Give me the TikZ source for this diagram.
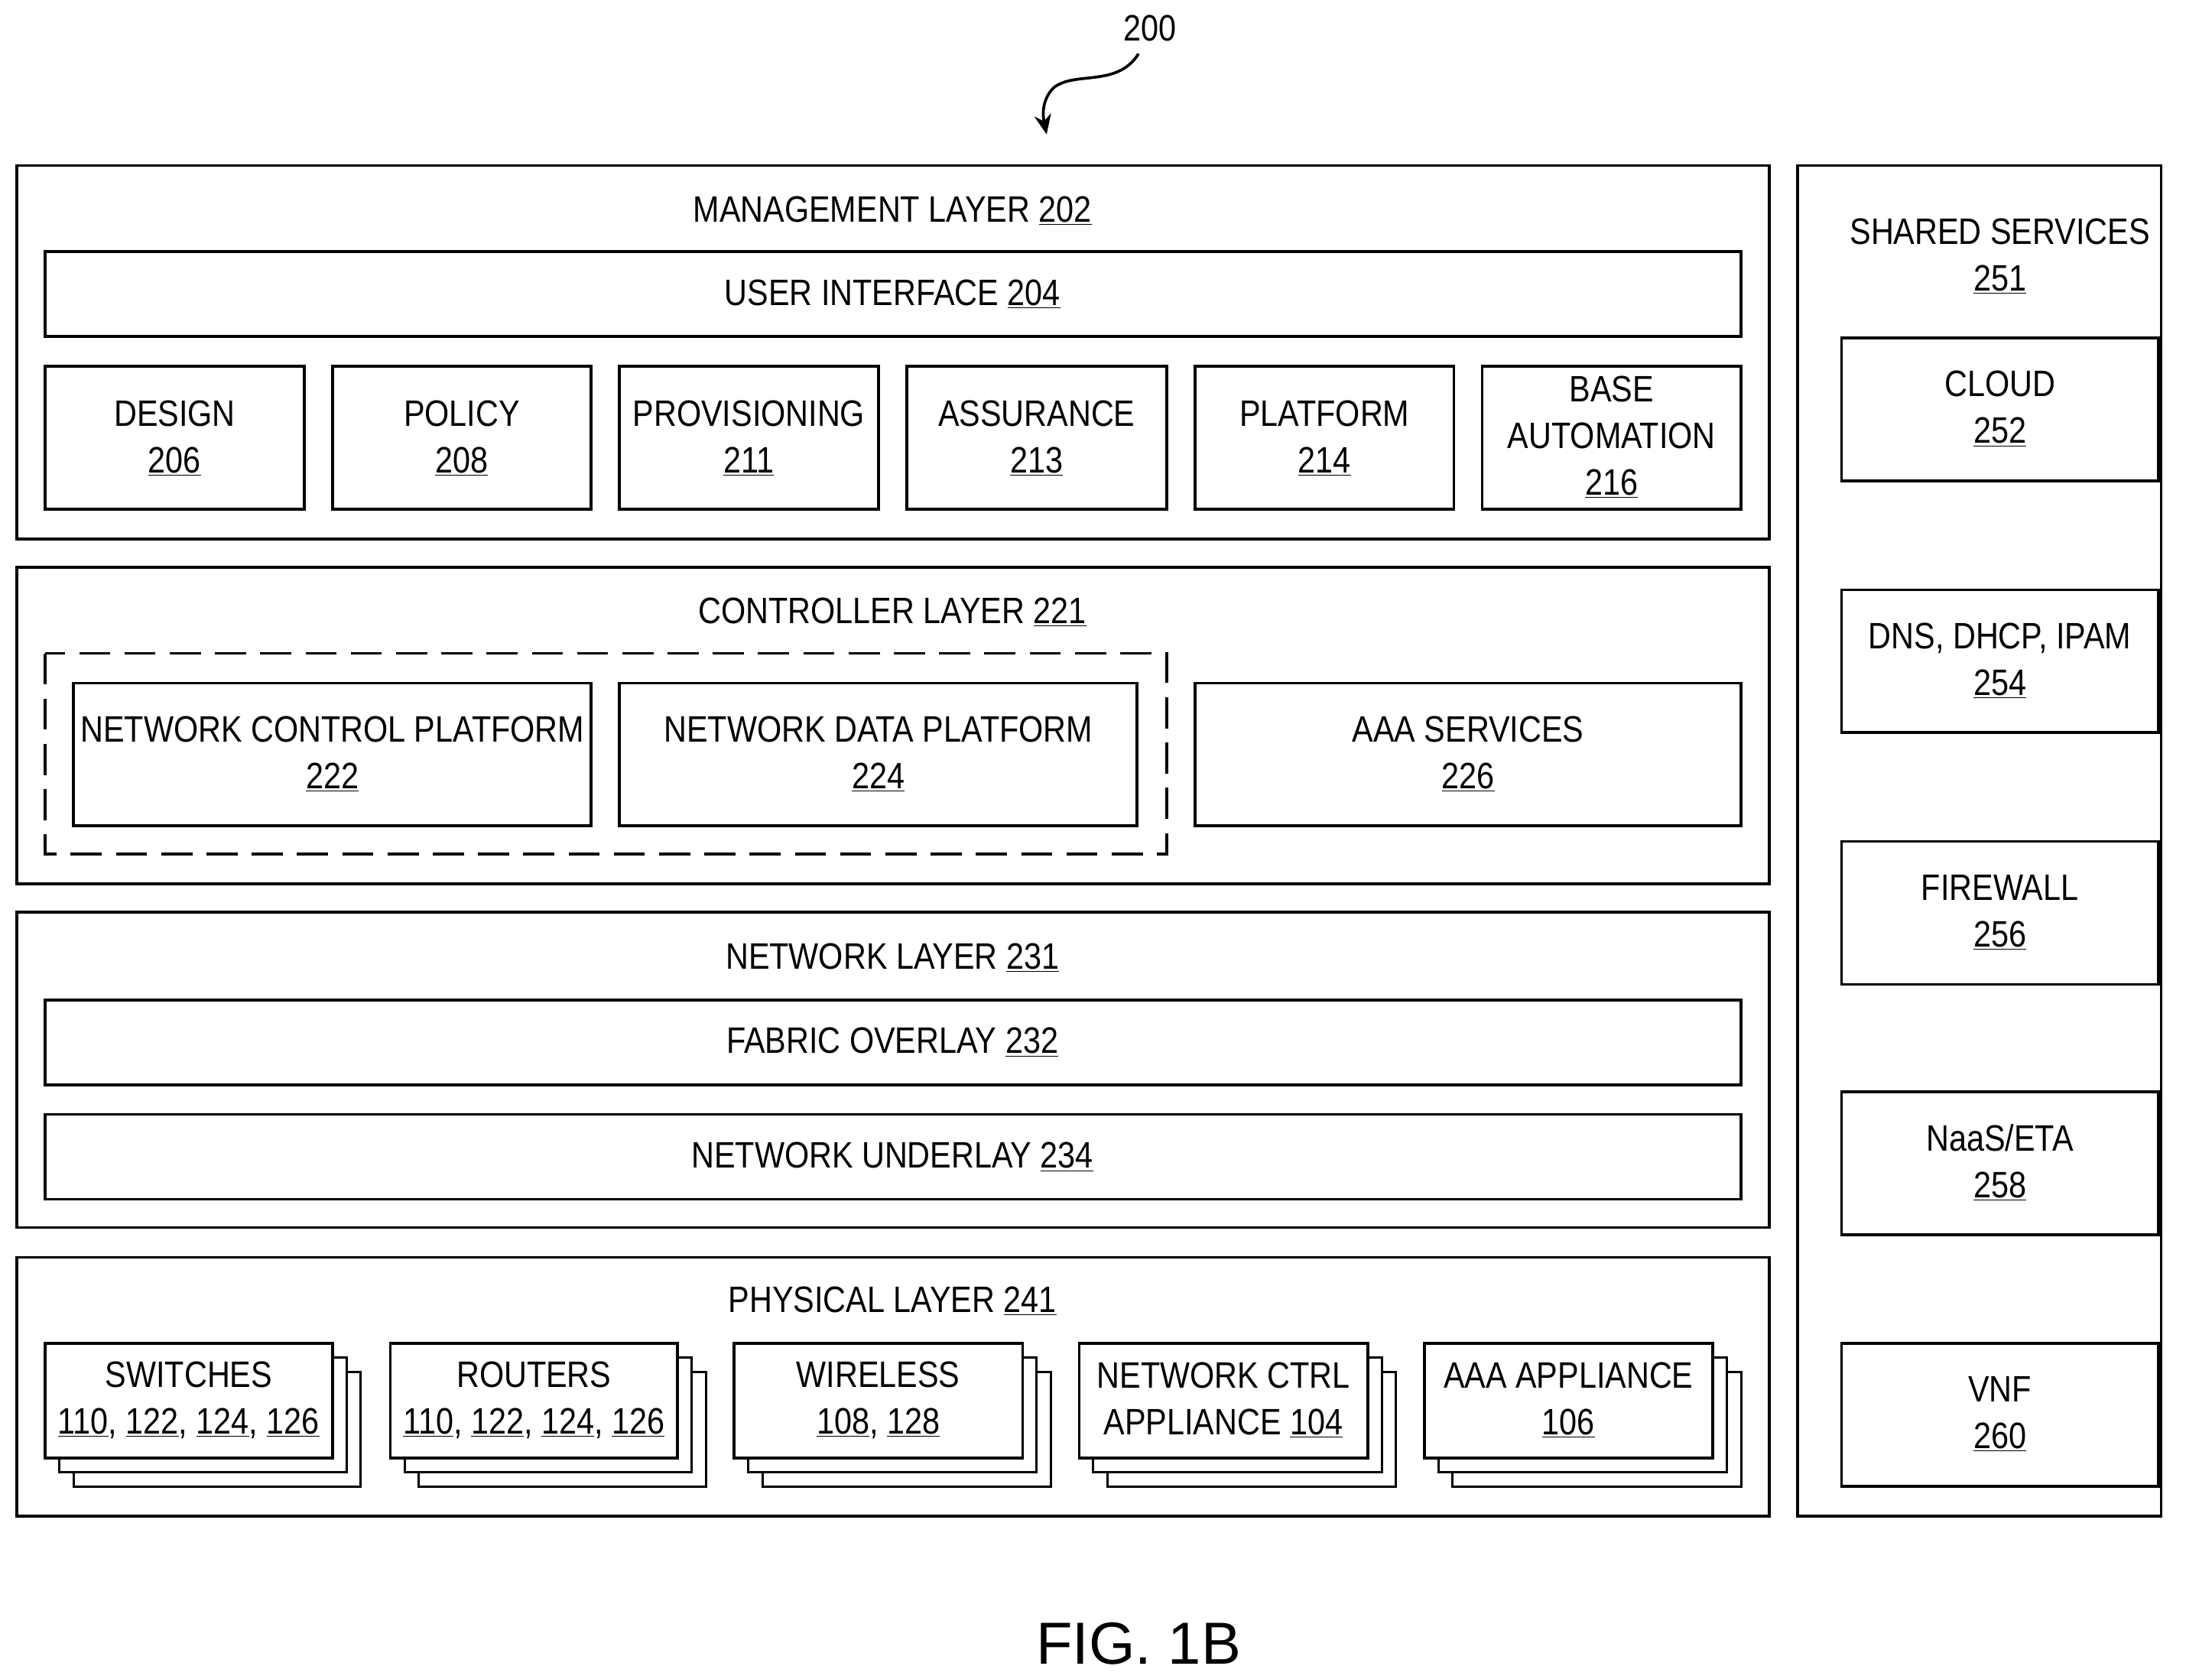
\documentclass[tikz,border=0pt]{standalone}
\usepackage{fontspec}
\usetikzlibrary{arrows.meta}
\setmainfont{Liberation Sans}[FakeStretch=0.86]
\newfontfamily\figfont{Liberation Sans}
\begin{document}
\begin{tikzpicture}[x=1pt,y=-1pt,
  bx/.style={draw,line width=2pt,fill=white},
  lbl/.style={font=\fontsize{26}{33}\selectfont,align=center,inner sep=0pt}]
\newcommand{\un}[1]{\underline{#1}}
\useasboundingbox (0,0) rectangle (1564,1187);
% management
\draw[bx] (12,117) rectangle (1251,381);
\node[lbl] (mt) at (631,149) {MANAGEMENT LAYER \un{202}};
\draw[bx] (32,178) rectangle (1231,238);
\node[lbl] (ui) at (631,208) {USER INTERFACE \un{204}};
\foreach \a/\b/\t in {32/215/{DESIGN\\\un{206}},235/418/{POLICY\\\un{208}},438/621/{PROVISIONING\\\un{211}},641/825/{ASSURANCE\\\un{213}},845/1028/{PLATFORM\\\un{214}}}{
  \draw[bx] (\a,259) rectangle (\b,360);
  \node[lbl] at ({(\a+\b)/2},310) {\t};}
\draw[bx] (1048,259) rectangle (1231,360);
\node[lbl] (ba) at (1139.5,309) {BASE\\AUTOMATION\\\un{216}};
% controller
\draw[bx] (12,401) rectangle (1251,625);
\node[lbl] (ct) at (631,433) {CONTROLLER LAYER \un{221}};
\draw[line width=2pt,dash pattern=on 22pt off 10pt] (32,462) rectangle (825,604);
\draw[bx] (52,483) rectangle (418,584);
\node[lbl] (ncp) at (235,533) {NETWORK CONTROL PLATFORM\\\un{222}};
\draw[bx] (438,483) rectangle (804,584);
\node[lbl] (ndp) at (621,533) {NETWORK DATA PLATFORM\\\un{224}};
\draw[bx] (845,483) rectangle (1231,584);
\node[lbl] (aaa) at (1038,533) {AAA SERVICES\\\un{226}};
% network
\draw[bx] (12,645) rectangle (1251,868);
\node[lbl] (nt) at (631,677) {NETWORK LAYER \un{231}};
\draw[bx] (32,707) rectangle (1231,767);
\node[lbl] (fo) at (631,737) {FABRIC OVERLAY \un{232}};
\draw[bx] (32,788) rectangle (1231,848);
\node[lbl] (nu) at (631,818) {NETWORK UNDERLAY \un{234}};
% physical
\draw[bx] (12,889) rectangle (1251,1072);
\node[lbl] (pt) at (631,920) {PHYSICAL LAYER \un{241}};
\foreach \a/\w/\t in {32/203/{SWITCHES\\\un{110}, \un{122}, \un{124}, \un{126}},276/203/{ROUTERS\\\un{110}, \un{122}, \un{124}, \un{126}},519/204/{WIRELESS\\\un{108}, \un{128}},763/204/{NETWORK CTRL\\APPLIANCE \un{104}},1007/204/{AAA APPLIANCE\\\un{106}}}{
  \draw[bx,line width=1.6pt] (\a+20,970) rectangle (\a+\w+20,1051);
  \draw[bx,line width=1.6pt] (\a+10,960) rectangle (\a+\w+10,1041);
  \draw[bx] (\a,950) rectangle (\a+\w,1031);
  \node[lbl] at ({\a+\w/2},990) {\t};}
% shared
\draw[bx] (1271,117) rectangle (1528,1072);
\node[lbl] (st) at (1414,181) {SHARED SERVICES\\\un{251}};
\foreach \y/\t in {239/{CLOUD\\\un{252}},417/{DNS, DHCP, IPAM\\\un{254}},595/{FIREWALL\\\un{256}},772/{NaaS/ETA\\\un{258}},950/{VNF\\\un{260}}}{
  \draw[bx] (1302,\y) rectangle (1526,\y+101);
  \node[lbl] at (1414,\y+50) {\t};}
% ref
\node[lbl] (ref) at (813,20) {200};
\coordinate (rs) at (805,38);
\coordinate (re) at (740,95);
\draw[line width=2pt,-{Stealth[length=14pt,width=12pt]}] (rs) .. controls (790,62) and (760,50) .. (745,62) .. controls (735,72) and (738,85) .. (re);
\node[font=\figfont\fontsize{42}{50}\selectfont,inner sep=0pt] (fig) at (805,1162) {FIG. 1B};
\end{tikzpicture}
\end{document}
